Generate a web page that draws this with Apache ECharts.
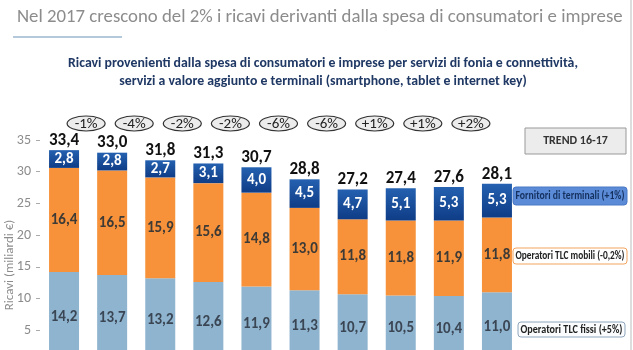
<!DOCTYPE html>
<html>
<head>
<meta charset="utf-8">
<script src="https://cdn.jsdelivr.net/npm/echarts@6/dist/echarts.min.js"></script>
<style>
  html, body { margin: 0; padding: 0; background: #fff; overflow: hidden; }
  #chart { width: 633px; height: 380px; }
</style>
</head>
<body>
<div id="chart"></div>
<script>
var anni = ['2008', '2009', '2010', '2011', '2012', '2013', '2014', '2015', '2016', '2017'];
var fissi = [14.2, 13.7, 13.2, 12.6, 11.9, 11.3, 10.7, 10.5, 10.4, 11.0];
var mobili = [16.4, 16.5, 15.9, 15.6, 14.8, 13.0, 11.8, 11.8, 11.9, 11.8];
var terminali = [2.8, 2.8, 2.7, 3.1, 4.0, 4.5, 4.7, 5.1, 5.3, 5.3];
var totali = [33.4, 33.0, 31.8, 31.3, 30.7, 28.8, 27.2, 27.4, 27.6, 28.1];
var variazioni = ['-1%', '-4%', '-2%', '-2%', '-6%', '-6%', '+1%', '+1%', '+2%'];
var yTicks = [0, 35, 5];
var legende = ['Fornitori di terminali (+1%)', 'Operatori TLC mobili (-0,2%)', 'Operatori TLC fissi (+5%)'];

var font = 'Carlito, "Open Sans", sans-serif';
var fmt = function(v) { return v.toFixed(1).replace('.', ','); };

var chart = echarts.init(document.getElementById('chart'), null, { renderer: 'canvas' });

var option = {
  animation: false,
  textStyle: { fontFamily: font },
  title: [
    {
      text: 'Nel 2017 crescono del 2% i ricavi derivanti dalla spesa di consumatori e imprese',
      left: 12, top: 3,
      textStyle: { color: '#8c8c8c', fontSize: 18.8, fontWeight: 'normal', fontFamily: font }
    },
    {
      text: 'Ricavi provenienti dalla spesa di consumatori e imprese per servizi di fonia e connettività,\nservizi a valore aggiunto e terminali (smartphone, tablet e internet key)',
      left: 318, top: 50, textAlign: 'center',
      textStyle: { color: '#1f3864', fontSize: 13.8, fontWeight: 'bold', lineHeight: 18, fontFamily: font, align: 'center' }
    }
  ],
  grid: { left: 40, right: 112, top: 140, bottom: 18 },
  xAxis: {
    type: 'category',
    data: anni,
    axisLine: { show: false },
    axisTick: { show: false },
    axisLabel: { show: false }
  },
  yAxis: {
    type: 'value',
    min: yTicks[0], max: yTicks[1], interval: yTicks[2],
    axisLine: { show: false },
    axisTick: { show: true, length: 4, lineStyle: { color: '#aaa' } },
    axisLabel: { color: '#8c8c8c', fontSize: 14, margin: 9, fontFamily: font },
    splitLine: { show: false }
  },
  series: [
    {
      name: 'Operatori TLC fissi', type: 'bar', stack: 'tot', barWidth: 30,
      data: fissi,
      itemStyle: { color: '#8fb4cf' },
      label: { show: true, position: 'inside', color: '#3b4654', fontSize: 15, fontWeight: 'bold', formatter: function(p) { return fmt(p.value); } }
    },
    {
      name: 'Operatori TLC mobili', type: 'bar', stack: 'tot', barWidth: 30,
      data: mobili,
      itemStyle: { color: '#f7923a' },
      label: { show: true, position: 'inside', color: '#3e3a36', fontSize: 15, fontWeight: 'bold', formatter: function(p) { return fmt(p.value); } }
    },
    {
      name: 'Fornitori di terminali', type: 'bar', stack: 'tot', barWidth: 30,
      data: terminali,
      itemStyle: { color: new echarts.graphic.LinearGradient(0, 0, 0, 1, [{ offset: 0, color: '#2461b0' }, { offset: 1, color: '#0f3c86' }]) },
      label: { show: true, position: 'inside', color: '#fff', fontSize: 15, fontWeight: 'bold', formatter: function(p) { return fmt(p.value); } }
    },
    {
      name: 'Totale', type: 'bar', stack: 'tot', barWidth: 30,
      data: anni.map(function() { return 0; }),
      itemStyle: { color: 'transparent' },
      label: { show: true, position: 'top', distance: 1, color: '#111', fontSize: 17, fontWeight: 'bold',
        formatter: function(p) { return fmt(totali[p.dataIndex]); } }
    }
  ]
};
chart.setOption(option);

// annotazioni: ellissi con variazioni, box TREND e etichette delle serie
var g = [];
variazioni.forEach(function(t, i) {
  var x0 = chart.convertToPixel({ xAxisIndex: 0, yAxisIndex: 0 }, [i, 0])[0];
  var x1 = chart.convertToPixel({ xAxisIndex: 0, yAxisIndex: 0 }, [i + 1, 0])[0];
  var cx = (x0 + x1) / 2 - 2;
  g.push({ type: 'ellipse', shape: { cx: cx, cy: 123.5, rx: 19, ry: 7.5 }, style: { fill: '#ececec', stroke: '#333', lineWidth: 1.2 } });
  g.push({ type: 'text', x: cx, y: 124, style: { text: t, fill: '#222', font: '15px ' + font, align: 'center', verticalAlign: 'middle' } });
});

g.push({ type: 'line', shape: { x1: 13, y1: 37, x2: 122, y2: 37 }, style: { stroke: '#9bb8d0', lineWidth: 1.5 } });
g.push({ type: 'line', shape: { x1: 631, y1: 0, x2: 631, y2: 350 }, style: { stroke: '#bbb', lineWidth: 1 } });

g.push({ type: 'rect', shape: { x: 525, y: 128, width: 101, height: 26 }, style: { fill: '#ececec', stroke: '#999', lineWidth: 1 } });
g.push({ type: 'text', x: 575.5, y: 141, style: { text: 'TREND 16-17', fill: '#333', font: 'bold 12px ' + font, align: 'center', verticalAlign: 'middle' } });

g.push({ type: 'text', x: 10, y: 265, rotation: Math.PI / 2,
  style: { text: 'Ricavi (miliardi €)', fill: '#8c8c8c', font: '13px ' + font, align: 'center', verticalAlign: 'middle' } });

var boxes = [
  { t: legende[0], x: 513, y: 187, w: 114, h: 18, fill: '#5b8bd6', stroke: '#4a78c4', color: '#14305e' },
  { t: legende[1], x: 513, y: 248, w: 114, h: 16, fill: '#fff', stroke: '#f2a35e', color: '#222' },
  { t: legende[2], x: 518, y: 322, w: 107, h: 15, fill: '#fbfcfd', stroke: '#8ea6bd', color: '#222' }
];
var ctx = document.createElement('canvas').getContext('2d');
var boxFont = 'bold 11.5px ' + font;
ctx.font = boxFont;
boxes.forEach(function(b) {
  var tw = ctx.measureText(b.t).width;
  var sx = Math.min(1, (b.w - 5) / tw);
  g.push({ type: 'rect', shape: { x: b.x, y: b.y, width: b.w, height: b.h, r: 3 }, style: { fill: b.fill, stroke: b.stroke, lineWidth: 1 } });
  g.push({ type: 'text', x: b.x + b.w / 2, y: b.y + b.h / 2 + 0.5, scaleX: sx,
    style: { text: b.t, fill: b.color, font: boxFont, align: 'center', verticalAlign: 'middle' } });
});

chart.setOption({ graphic: g });
window.addEventListener('resize', function() { chart.resize(); });
</script>
</body>
</html>
